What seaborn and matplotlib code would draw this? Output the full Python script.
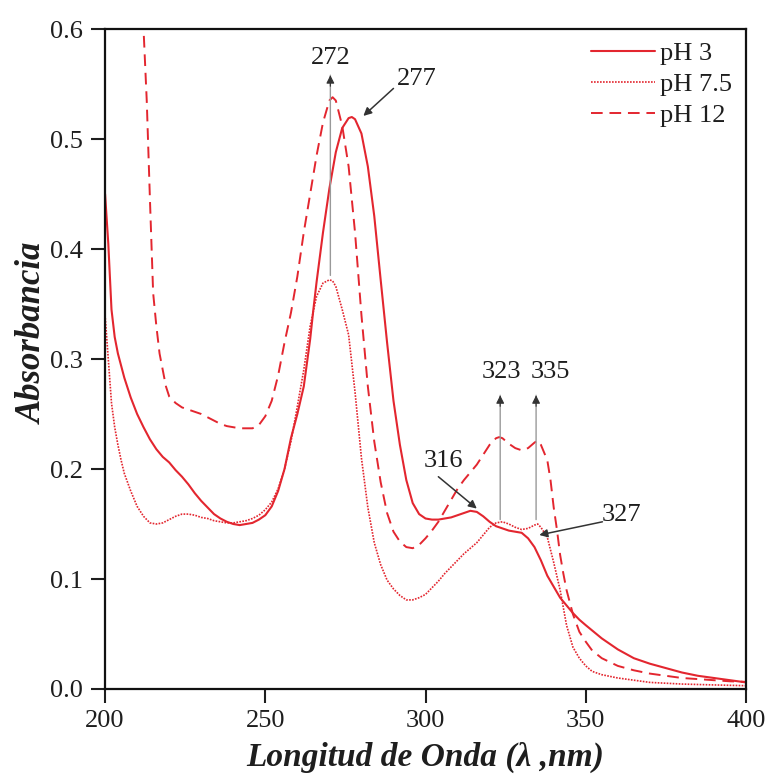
import matplotlib
matplotlib.use("Agg")
import matplotlib.pyplot as plt
import seaborn as sns
import pandas as pd

# ---------------- data ----------------
wl_ph3 = [200, 201, 202, 203, 204, 206, 208, 210, 212, 214, 216, 218, 220, 222, 224, 226, 228, 230,
          232, 234, 236, 238, 240, 242, 244, 246, 248, 250, 252, 254, 256, 258, 260, 262, 264, 265,
          266, 268, 270, 272, 274, 276, 277, 278, 280, 282, 284, 286, 288, 290, 292, 294, 296, 298,
          300, 302, 304, 306, 308, 310, 312, 314, 316, 318, 320, 322, 324, 326, 328, 330, 332, 334,
          336, 338, 340, 342, 344, 346, 348, 350, 355, 360, 365, 370, 375, 380, 385, 390, 395, 400]
abs_ph3 = [0.450, 0.405, 0.345, 0.320, 0.305, 0.283, 0.265, 0.250, 0.238, 0.227, 0.218, 0.211, 0.206,
           0.199, 0.193, 0.186, 0.178, 0.171, 0.165, 0.159, 0.155, 0.152, 0.150, 0.149, 0.150, 0.151,
           0.154, 0.158, 0.166, 0.180, 0.200, 0.228, 0.250, 0.275, 0.318, 0.345, 0.370, 0.415, 0.455,
           0.488, 0.510, 0.519, 0.520, 0.518, 0.505, 0.475, 0.430, 0.372, 0.315, 0.262, 0.222, 0.190,
           0.169, 0.159, 0.155, 0.154, 0.154, 0.155, 0.156, 0.158, 0.160, 0.162, 0.161, 0.157, 0.152,
           0.148, 0.146, 0.144, 0.143, 0.142, 0.137, 0.129, 0.117, 0.103, 0.093, 0.083, 0.076, 0.069,
           0.063, 0.058, 0.046, 0.036, 0.028, 0.023, 0.019, 0.015, 0.012, 0.010, 0.008, 0.006]

wl_ph75 = [200, 201, 202, 203, 204, 205, 206, 208, 210, 212, 214, 216, 218, 220, 222, 224, 226, 228,
           230, 232, 234, 236, 238, 240, 242, 244, 246, 248, 250, 252, 254, 256, 258, 260, 262, 264,
           266, 268, 270, 271, 272, 274, 276, 278, 280, 282, 284, 286, 288, 290, 292, 294, 296, 298,
           300, 302, 304, 306, 308, 310, 312, 314, 316, 318, 320, 322, 324, 326, 328, 330, 332, 334,
           335, 336, 338, 340, 342, 344, 346, 348, 350, 352, 355, 360, 365, 370, 380, 390, 400]
abs_ph75 = [0.340, 0.300, 0.260, 0.238, 0.222, 0.208, 0.196, 0.180, 0.166, 0.157, 0.151, 0.150, 0.151,
            0.154, 0.157, 0.159, 0.159, 0.158, 0.156, 0.155, 0.153, 0.152, 0.151, 0.151, 0.152, 0.153,
            0.155, 0.158, 0.163, 0.170, 0.182, 0.200, 0.225, 0.257, 0.290, 0.330, 0.357, 0.369, 0.372,
            0.371, 0.366, 0.345, 0.322, 0.270, 0.210, 0.165, 0.133, 0.113, 0.099, 0.091, 0.085, 0.081,
            0.081, 0.083, 0.086, 0.092, 0.098, 0.105, 0.111, 0.117, 0.123, 0.128, 0.133, 0.140, 0.147,
            0.151, 0.152, 0.150, 0.147, 0.145, 0.146, 0.149, 0.150, 0.147, 0.138, 0.115, 0.090, 0.058,
            0.038, 0.028, 0.021, 0.016, 0.013, 0.010, 0.008, 0.006, 0.0045, 0.0037, 0.003]

wl_ph12 = [210, 211, 212, 213, 214, 215, 216, 217, 218, 219, 220, 222, 224, 226, 228, 230, 232, 234,
           236, 238, 240, 242, 244, 246, 248, 250, 252, 254, 256, 258, 260, 262, 264, 266, 268, 270,
           271, 272, 274, 276, 278, 280, 282, 284, 286, 288, 290, 292, 294, 296, 298, 300, 302, 304,
           306, 308, 310, 312, 314, 316, 318, 320, 322, 323, 324, 326, 328, 330, 332, 334, 335, 336,
           338, 339, 340, 341, 342, 343, 344, 346, 348, 350, 352, 355, 360, 365, 370, 375, 380, 385,
           390, 395, 400]
abs_ph12 = [0.750, 0.660, 0.600, 0.535, 0.445, 0.360, 0.330, 0.305, 0.290, 0.275, 0.266, 0.260, 0.256,
            0.254, 0.252, 0.250, 0.247, 0.244, 0.241, 0.239, 0.238, 0.237, 0.237, 0.237, 0.240, 0.248,
            0.262, 0.285, 0.315, 0.342, 0.375, 0.415, 0.450, 0.485, 0.515, 0.535, 0.538, 0.535, 0.512,
            0.475, 0.415, 0.340, 0.275, 0.225, 0.188, 0.160, 0.143, 0.134, 0.129, 0.128, 0.131, 0.137,
            0.144, 0.152, 0.162, 0.172, 0.182, 0.190, 0.197, 0.204, 0.213, 0.222, 0.228, 0.229, 0.228,
            0.223, 0.219, 0.217, 0.219, 0.224, 0.226, 0.222, 0.208, 0.190, 0.165, 0.145, 0.122, 0.105,
            0.090, 0.068, 0.052, 0.043, 0.035, 0.028, 0.021, 0.017, 0.014, 0.012, 0.010, 0.009, 0.008,
            0.007, 0.0065]

series_labels = ["pH 3", "pH 7.5", "pH 12"]
x_ticks = [200, 250, 300, 350, 400]
y_ticks = [0.0, 0.1, 0.2, 0.3, 0.4, 0.5, 0.6]

# annotations: (label, text_x, text_y, arrow_tail_x, arrow_tail_y, tip_x, tip_y, kind)
peak_notes = [
    ("272", 270.3, 0.574, 270.3, 0.376, 270.3, 0.558, "grey"),
    ("277", 297.4, 0.555, 290.0, 0.546, 280.6, 0.521, "black"),
    ("323", 323.7, 0.288, 323.3, 0.154, 323.3, 0.267, "grey"),
    ("335", 339.0, 0.288, 334.5, 0.154, 334.5, 0.267, "grey"),
    ("316", 305.6, 0.207, 304.0, 0.193, 316.0, 0.164, "black"),
    ("327", 361.0, 0.158, 355.2, 0.152, 335.5, 0.140, "black"),
]

# ---------------- plot ----------------
sns.set_style("ticks")
plt.rcParams["font.family"] = ["Liberation Serif", "DejaVu Serif"]

RED = "#e3262f"
TXT = "#1e1e1e"

fig = plt.figure(figsize=(7.67, 7.78), dpi=100)
ax = fig.add_axes([0.137, 0.1144, 0.8356, 0.8483])

df3 = pd.DataFrame({"wl": wl_ph3, "A": abs_ph3})
df75 = pd.DataFrame({"wl": wl_ph75, "A": abs_ph75})
df12 = pd.DataFrame({"wl": wl_ph12, "A": abs_ph12})

sns.lineplot(data=df3, x="wl", y="A", ax=ax, color=RED, lw=1.5, label=series_labels[0],
             estimator=None, sort=False)
sns.lineplot(data=df75, x="wl", y="A", ax=ax, color=RED, lw=1.2, linestyle=(0, (1, 0.8)),
             label=series_labels[1], estimator=None, sort=False)
sns.lineplot(data=df12, x="wl", y="A", ax=ax, color=RED, lw=1.4, linestyle=(0, (6, 3.5)),
             label=series_labels[2], estimator=None, sort=False)

ax.set_xlim(200, 400)
ax.set_ylim(0, 0.6)
ax.set_xticks(x_ticks)
ax.set_yticks(y_ticks)
ax.set_xticklabels([str(t) for t in x_ticks])
ax.set_yticklabels([f"{t:.1f}" for t in y_ticks])
ax.tick_params(axis="both", direction="out", length=10, width=1.5, labelsize=19, colors=TXT,
               pad=5)
ax.tick_params(axis="y", pad=6)
for s in ax.spines.values():
    s.set_visible(True)
    s.set_linewidth(1.6)
    s.set_color("#111111")

ax.set_xlabel("Longitud de Onda (λ ,nm)", fontsize=24, fontweight="bold", fontstyle="italic",
              labelpad=7, color=TXT)
ax.set_ylabel("Absorbancia", fontsize=25, fontweight="bold", fontstyle="italic", color=TXT)
ax.yaxis.set_label_coords(-0.087, 0.539)

for lab, tx, ty, ax0, ay0, ax1, ay1, kind in peak_notes:
    ax.text(tx, ty, lab, fontsize=19, ha="center", va="center", color=TXT)
    if kind == "grey":
        ax.annotate("", xy=(ax1, ay1), xytext=(ax0, ay0),
                    arrowprops=dict(arrowstyle="-", color="#999999", lw=1.0,
                                    shrinkA=0, shrinkB=0))
        ax.annotate("", xy=(ax1, ay1), xytext=(ax1, ay1 - 0.01),
                    arrowprops=dict(arrowstyle="-|>", color="#333333", lw=0.8,
                                    mutation_scale=12, shrinkA=0, shrinkB=0))
    else:
        ax.annotate("", xy=(ax1, ay1), xytext=(ax0, ay0),
                    arrowprops=dict(arrowstyle="-|>", color="#333333", lw=1.1,
                                    mutation_scale=12, shrinkA=0, shrinkB=0))

leg = ax.legend(loc="upper right", frameon=False, fontsize=19, handlelength=2.4,
                handletextpad=0.2, labelspacing=0.28, borderaxespad=0.3,
                bbox_to_anchor=(1.007, 1.009))
for t in leg.get_texts():
    t.set_color(TXT)

fig.savefig("out.png", dpi=100)
